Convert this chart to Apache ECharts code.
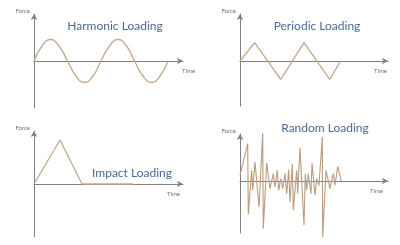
<!DOCTYPE html>
<html><head><meta charset="utf-8">
<script src="https://cdn.jsdelivr.net/npm/echarts@6/dist/echarts.min.js"></script>
<style>html,body{margin:0;padding:0;background:#fff}#c{width:400px;height:245px}</style>
</head><body><div id="c"></div>
<script>
// Titles and axis labels
const titles = ['Harmonic Loading', 'Periodic Loading', 'Impact Loading', 'Random Loading'];
const yName = 'Force';
const xName = 'Time';

// Harmonic loading (time, force)
const harmonicT = [0, 8, 16.5, 25, 33.5, 42, 50.5, 59, 67, 75.5, 84, 92.5, 100.5, 109, 117.5, 126, 134];
const harmonicF = [0, 15, 21.5, 15, 0, -15, -21.5, -15, 0, 15, 21.5, 15, 0, -15, -21.5, -15, 0];

// Periodic (triangular) loading
const periodicT = [0, 14.7, 40.7, 64, 89.7, 100.7];
const periodicF = [0, 18.3, -18.3, 18.3, -18.3, 0];

// Impact loading
const impactT = [0, 26, 48, 99];
const impactF = [0, 44, 0, 0];

// Random loading
const randomT = [0, 7.7, 8.3, 11.7, 12.7, 15, 19, 22.7, 23.3, 26.7, 30, 33.3, 35, 37.3, 38.7, 40.7, 42.7, 45, 46.7, 48.7, 50, 52.3, 53.3, 56.7, 57.7, 60, 64, 65.3, 66.7, 68.3, 71, 72, 75, 76.7, 79, 82.3, 82.7, 86, 90, 93.3, 95, 97.7, 101.3];
const randomF = [5.7, 37.3, -33.3, 10.7, -9.3, 19, -26, 48, -47.7, 18, -7.7, 7.3, -6, 10.7, -9.3, 2.3, -7.7, 7.3, -12.7, 11.3, -21, 17.3, -29.3, 10.7, -12.7, 33.3, -44.3, 7.3, -9.3, 7.3, -12.7, 18, -14.3, 2.3, -4.3, 44, -56, 10.7, -7.7, 7.3, -4.3, 14.7, 0];

const pairs = (t, f) => t.map((v, i) => [v, f[i]]);

const axisColor = '#808080';
const lineColor = '#c4a98b';
const titleColor = '#4a6a94';
const font = 'Lato';

const grids = [
  {left: 34, top: 14, width: 149, height: 94},
  {left: 240, top: 14, width: 148, height: 92},
  {left: 34, top: 131, width: 149, height: 106},
  {left: 240, top: 134, width: 148, height: 99}
];
const yRanges = [[-47, 47], [-45, 47], [-53, 53], [-52, 47]];
const xMax = [149, 148, 149, 148];
const xNameAlign = ['left', 'right', 'right', 'right'];
const xNameGap = [-1, -1, -3, -5];
const titlePos = [[110, 15], [312, 15], [127, 162], [320, 117]];

const mkX = i => ({
  gridIndex: i, type: 'value', min: 0, max: xMax[i],
  axisLine: {onZero: true, lineStyle: {color: axisColor, width: 1}, symbol: ['none', 'arrow'], symbolSize: [5, 6]},
  axisTick: {show: false}, axisLabel: {show: false}, splitLine: {show: false},
  name: xName, nameLocation: 'end', nameGap: xNameGap[i],
  nameTextStyle: {fontSize: 6, color: '#707070', fontFamily: font, align: xNameAlign[i], verticalAlign: 'top', padding: [7, 0, 0, 0]}
});
const mkY = i => ({
  gridIndex: i, type: 'value', min: yRanges[i][0], max: yRanges[i][1],
  axisLine: {onZero: false, lineStyle: {color: axisColor, width: 1}, symbol: ['none', 'arrow'], symbolSize: [5, 6]},
  axisTick: {show: false}, axisLabel: {show: false}, splitLine: {show: false},
  name: yName, nameLocation: 'end', nameGap: 3,
  nameTextStyle: {fontSize: 6, color: '#707070', fontFamily: font, align: 'right', verticalAlign: 'middle', padding: [0, 4, 0, 0]}
});

const data = [pairs(harmonicT, harmonicF), pairs(periodicT, periodicF), pairs(impactT, impactF), pairs(randomT, randomF)];

const option = {
  animation: false,
  backgroundColor: '#fff',
  title: titles.map((t, i) => ({
    text: t, left: titlePos[i][0], top: titlePos[i][1], textAlign: 'center',
    textStyle: {fontSize: 12, fontWeight: 'normal', color: titleColor, fontFamily: font}
  })),
  grid: grids,
  xAxis: [0, 1, 2, 3].map(mkX),
  yAxis: [0, 1, 2, 3].map(mkY),
  series: data.map((d, i) => ({
    type: 'line', xAxisIndex: i, yAxisIndex: i, data: d,
    smooth: i === 0 ? 0.5 : false, showSymbol: false, clip: false,
    lineStyle: {color: i === 3 ? '#bb9c7c' : lineColor, width: i === 3 ? 1.1 : 1.3}
  }))
};
const chart = echarts.init(document.getElementById('c'), null, {renderer: 'canvas'});
chart.setOption(option);
</script></body></html>
